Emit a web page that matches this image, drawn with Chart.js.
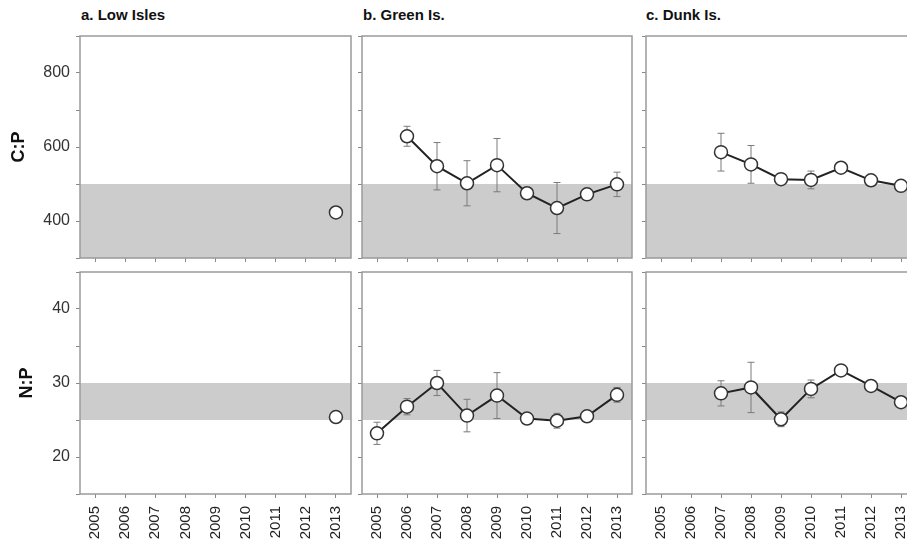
<!DOCTYPE html>
<html>
<head>
<meta charset="utf-8">
<title>C:P and N:P by year</title>
<script src="https://cdn.jsdelivr.net/npm/chart.js"></script>
<style>
  html, body { margin:0; padding:0; background:#fff; overflow:hidden; }
  #wrap { position:relative; width:907px; height:545px; overflow:hidden; font-family:"Liberation Sans", Arial, sans-serif; }
  .title { position:absolute; top:6px; font-weight:bold; font-size:15px; line-height:18px; color:#111; white-space:nowrap; }
  .panel { position:absolute; }
</style>
</head>
<body>
<div id="wrap">
  <div class="title" style="left:81px">a. Low Isles</div>
  <div class="title" style="left:363px">b. Green Is.</div>
  <div class="title" style="left:646px">c. Dunk Is.</div>
  <div class="panel" id="p0"><canvas id="c0"></canvas></div>
  <div class="panel" id="p1"><canvas id="c1"></canvas></div>
  <div class="panel" id="p2"><canvas id="c2"></canvas></div>
  <div class="panel" id="p3"><canvas id="c3"></canvas></div>
  <div class="panel" id="p4"><canvas id="c4"></canvas></div>
  <div class="panel" id="p5"><canvas id="c5"></canvas></div>
</div>

<script>
const years = ['2005', '2006', '2007', '2008', '2009', '2010', '2011', '2012', '2013'];

const lowCP    = [null, null, null, null, null, null, null, null, 423];
const lowCPErr = [null, null, null, null, null, null, null, null, 0];
const lowNP    = [null, null, null, null, null, null, null, null, 25.4];
const lowNPErr = [null, null, null, null, null, null, null, null, 0];

const greenCP    = [null, 629, 548, 502, 551, 475, 435, 472, 499];
const greenCPErr = [null, 27, 64, 61, 72, 8, 69, 8, 33];
const greenNP    = [23.2, 26.8, 30.0, 25.6, 28.3, 25.2, 24.9, 25.5, 28.4];
const greenNPErr = [1.5, 1.1, 1.7, 2.2, 3.1, 0.4, 1.0, 0.4, 1.0];

const dunkCP    = [null, null, 586, 553, 513, 511, 544, 510, 495];
const dunkCPErr = [null, null, 51, 51, 8, 24, 5, 5, 5];
const dunkNP    = [null, null, 28.6, 29.4, 25.1, 29.2, 31.7, 29.6, 27.4];
const dunkNPErr = [null, null, 1.7, 3.4, 1.0, 1.2, 0.3, 0.3, 0.3];

// y scales and the shaded reference ranges
const cpRange = [300, 900], cpStep = 100, cpLabels = [400, 600, 800], cpBand = [300, 500];
const npRange = [15, 45],   npStep = 5,   npLabels = [20, 30, 40],    npBand = [25, 30];

const frameLeft = [80, 362, 646];
const frameRight = [351, 632, 916];
const frameTop = [36, 272];
const frameBottom = [258, 494];

Chart.defaults.font.family = '"Liberation Sans", Arial, sans-serif';

const decor = {
  id: 'decor',
  beforeDatasetsDraw(chart, args, opts) {
    const { ctx, chartArea: a, scales: { x, y } } = chart;
    ctx.save();
    ctx.fillStyle = '#cccccc';
    const top = y.getPixelForValue(opts.band[1]);
    const bot = y.getPixelForValue(opts.band[0]);
    ctx.fillRect(a.left, top, a.right - a.left, bot - top);

    ctx.strokeStyle = '#7a7a7a';
    ctx.lineWidth = 1;
    const meta = chart.getDatasetMeta(0);
    opts.values.forEach((v, i) => {
      const e = opts.err[i];
      if (v == null || !e) return;
      const px = meta.data[i].x;
      const y1 = y.getPixelForValue(v + e);
      const y2 = y.getPixelForValue(v - e);
      ctx.beginPath();
      ctx.moveTo(px, y1); ctx.lineTo(px, y2);
      ctx.moveTo(px - 3.5, y1); ctx.lineTo(px + 3.5, y1);
      ctx.moveTo(px - 3.5, y2); ctx.lineTo(px + 3.5, y2);
      ctx.stroke();
    });
    ctx.restore();
  },
  afterDraw(chart) {
    const { ctx, chartArea: a } = chart;
    ctx.save();
    ctx.strokeStyle = '#9a9a9a';
    ctx.lineWidth = 1.5;
    ctx.strokeRect(a.left, a.top, a.right - a.left, a.bottom - a.top);
    ctx.restore();
  }
};

const panels = [
  { id: 0, col: 0, row: 0, values: lowCP,   err: lowCPErr,   title: 'C:P' },
  { id: 1, col: 1, row: 0, values: greenCP, err: greenCPErr },
  { id: 2, col: 2, row: 0, values: dunkCP,  err: dunkCPErr },
  { id: 3, col: 0, row: 1, values: lowNP,   err: lowNPErr,   title: 'N:P' },
  { id: 4, col: 1, row: 1, values: greenNP, err: greenNPErr },
  { id: 5, col: 2, row: 1, values: dunkNP,  err: dunkNPErr }
];

panels.forEach(p => {
  const isCP = p.row === 0;
  const range = isCP ? cpRange : npRange;
  const labels = isCP ? cpLabels : npLabels;
  const yW = p.col === 0 ? 80 : 10;
  const xH = p.row === 0 ? 8 : 51;
  const padTop = 4, padRight = 4;

  const box = document.getElementById('p' + p.id);
  box.style.left = (frameLeft[p.col] - yW) + 'px';
  box.style.top = (frameTop[p.row] - padTop) + 'px';
  box.style.width = (frameRight[p.col] - frameLeft[p.col] + yW + padRight) + 'px';
  box.style.height = (frameBottom[p.row] - frameTop[p.row] + padTop + xH) + 'px';

  new Chart(document.getElementById('c' + p.id), {
    type: 'line',
    data: {
      labels: years,
      datasets: [{
        data: p.values,
        borderColor: '#222',
        borderWidth: 2,
        pointRadius: 6.5,
        pointBackgroundColor: '#fff',
        pointBorderColor: '#333',
        pointBorderWidth: 1.5,
        tension: 0
      }]
    },
    options: {
      responsive: true,
      maintainAspectRatio: false,
      animation: false,
      layout: { autoPadding: false, padding: { top: padTop, right: padRight, left: 0, bottom: 0 } },
      plugins: {
        legend: { display: false },
        tooltip: { enabled: false },
        decor: { band: isCP ? cpBand : npBand, values: p.values, err: p.err }
      },
      scales: {
        x: {
          type: 'category',
          offset: true,
          border: { display: false },
          grid: { drawOnChartArea: false, drawTicks: true, tickLength: 4, tickColor: '#888' },
          ticks: {
            display: p.row === 1,
            autoSkip: false,
            minRotation: 90,
            maxRotation: 90,
            padding: 8,
            color: '#222',
            font: { size: 15 }
          },
          afterFit(s) {
            s.height = xH;
            s.paddingLeft = 0; s.paddingRight = 0;
          }
        },
        y: {
          min: range[0],
          max: range[1],
          border: { display: false },
          grid: { drawOnChartArea: false, drawTicks: true, tickLength: 4, tickColor: '#888' },
          ticks: {
            stepSize: isCP ? cpStep : npStep,
            padding: 6,
            color: '#333',
            font: { size: 16 },
            callback: v => (p.col === 0 && labels.includes(v)) ? String(v) : ''
          },
          title: {
            display: !!p.title,
            text: p.title || '',
            color: '#111',
            font: { size: 18, weight: 'bold' },
            padding: { top: isCP ? 8 : 16, bottom: 0 }
          },
          afterFit(s) {
            s.width = yW;
            s.paddingTop = 0; s.paddingBottom = 0;
          }
        }
      }
    },
    plugins: [decor]
  });
});
</script>
</body>
</html>
